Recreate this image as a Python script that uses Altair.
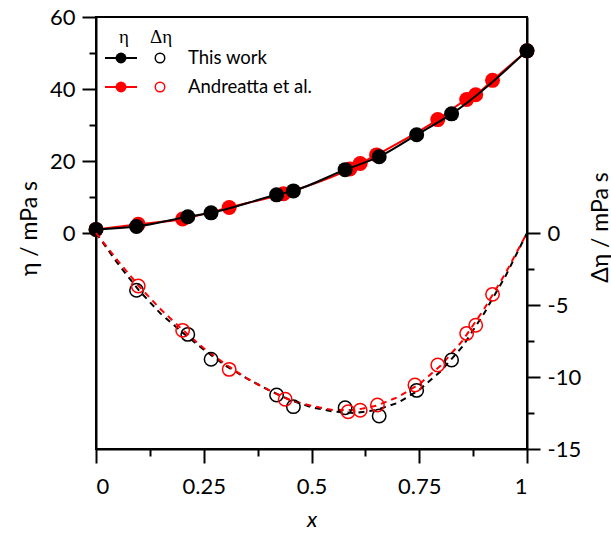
import altair as alt
import pandas as pd

# ---- data ----
x_this = [0.0, 0.094, 0.213, 0.267, 0.419, 0.458, 0.578, 0.657, 0.744, 0.825, 1.0]
eta_this = [1.0, 1.8, 4.5, 5.6, 10.6, 11.7, 17.6, 21.2, 27.3, 33.1, 50.6]
x_this_d = [0.094, 0.213, 0.267, 0.419, 0.458, 0.578, 0.657, 0.744, 0.825]
deta_this = [-3.98, -7.04, -8.77, -11.25, -12.06, -12.13, -12.71, -10.93, -8.82]

x_and = [0.0, 0.098, 0.201, 0.309, 0.435, 0.589, 0.613, 0.651, 0.793, 0.860, 0.881, 0.920, 1.0]
eta_and = [1.0, 2.4, 3.9, 7.1, 10.9, 17.8, 19.3, 21.7, 31.5, 37.1, 38.4, 42.4, 50.6]
x_and_d = [0.098, 0.201, 0.309, 0.439, 0.585, 0.613, 0.653, 0.740, 0.793, 0.860, 0.881, 0.920]
deta_and = [-3.68, -6.76, -9.47, -11.55, -12.41, -12.31, -11.94, -10.56, -9.17, -6.97, -6.41, -4.26]

# fitted (dashed) curves
x_fit = [0.0, 0.05, 0.1, 0.15, 0.2, 0.25, 0.3, 0.35, 0.4, 0.45, 0.5, 0.55, 0.6,
         0.65, 0.7, 0.75, 0.8, 0.85, 0.9, 0.95, 1.0]
fit_this = [0.0, -2.1, -4.0, -5.6, -6.9, -8.1, -9.2, -10.1, -10.9, -11.6, -12.1,
            -12.4, -12.5, -12.3, -11.8, -10.9, -9.6, -7.9, -5.6, -3.0, 0.0]
fit_and = [0.0, -1.9, -3.7, -5.3, -6.7, -8.0, -9.1, -10.1, -10.9, -11.6, -12.0,
           -12.3, -12.3, -12.0, -11.4, -10.5, -9.2, -7.5, -5.3, -2.8, 0.0]

legend_labels = ["This work", "Andreatta et al."]
legend_colors = ["black", "red"]

FONT = "Lato"
RED = "#ff0000"

df_this = pd.DataFrame({"x": x_this, "eta": eta_this})
df_this_d = pd.DataFrame({"x": x_this_d, "deta": deta_this})
df_and = pd.DataFrame({"x": x_and, "eta": eta_and})
df_and_d = pd.DataFrame({"x": x_and_d, "deta": deta_and})
df_fit = pd.DataFrame({"x": x_fit, "fit_this": fit_this, "fit_and": fit_and})
one = pd.DataFrame({"a": [0]})

PW, PH = 431, 432
L, T = 96, 17

x_axis = alt.Axis(
    values=[i / 8 for i in range(9)],
    labelExpr="(round(datum.value*8) % 2 == 0) ? '' + datum.value : ''",
    tickSize={"condition": {"test": "round(datum.value*8) % 2 == 0", "value": 14}, "value": 7},
    title="x", titleFontStyle="italic", titleFont=FONT, titleFontSize=22,
    titleFontWeight="normal", titleY=70, titleBaseline="middle",
    labelFont=FONT, labelFontSize=22, labelPadding=13, grid=False,
)
x_enc = alt.X("x:Q", scale=alt.Scale(domain=[0, 1], nice=False, zero=False), axis=x_axis)

eta_axis = alt.Axis(
    values=[0, 10, 20, 30, 40, 50, 60],
    labelExpr="datum.value % 20 == 0 ? '' + datum.value : ''",
    tickSize={"condition": {"test": "datum.value % 20 == 0", "value": 14}, "value": 7},
    title="η / mPa s", titleFont=FONT, titleFontSize=23, titleFontWeight="normal",
    titleX=29 - L, titleY=228 - T, titleAngle=270, titleAlign="center",
    titleBaseline="middle",
    labelFont=FONT, labelFontSize=22, labelPadding=7, grid=False, orient="left",
)
eta_scale = alt.Scale(domain=[-60, 60], nice=False, zero=False)

deta_axis = alt.Axis(
    values=[0, -2.5, -5, -7.5, -10, -12.5, -15],
    labelExpr="datum.value % 5 == 0 ? '' + datum.value : ''",
    tickSize={"condition": {"test": "datum.value % 5 == 0", "value": 13}, "value": 7},
    title="Δη / mPa s", titleFont=FONT, titleFontSize=23, titleFontWeight="normal",
    titleX=600 - (L + PW), titleY=227 - T, titleAngle=270, titleAlign="center",
    titleBaseline="middle",
    labelFont=FONT, labelFontSize=22, labelPadding=7, grid=False, orient="right",
)
deta_scale = alt.Scale(domain=[-15, 15], nice=False, zero=False)


def eta_y(field):
    return alt.Y(f"{field}:Q", scale=eta_scale, axis=eta_axis)


def deta_y(field):
    return alt.Y(f"{field}:Q", scale=deta_scale, axis=deta_axis)


# delta-eta layers
blk_fit = alt.Chart(df_fit).mark_line(color="black", strokeWidth=2, strokeDash=[6, 5]).encode(x=x_enc, y=deta_y("fit_this"))
red_fit = alt.Chart(df_fit).mark_line(color=RED, strokeWidth=2, strokeDash=[6, 5]).encode(x=x_enc, y=deta_y("fit_and"))
blk_open = alt.Chart(df_this_d).mark_point(filled=False, color="black", size=180, strokeWidth=1.5, opacity=1, shape="circle").encode(x=x_enc, y=deta_y("deta"))
red_open = alt.Chart(df_and_d).mark_point(filled=False, color=RED, size=180, strokeWidth=1.5, opacity=1, shape="circle").encode(x=x_enc, y=deta_y("deta"))
deta_layer = alt.layer(blk_fit, red_fit, blk_open, red_open)

# eta layers
red_line = alt.Chart(df_and).mark_line(color=RED, strokeWidth=2, interpolate="monotone").encode(x=x_enc, y=eta_y("eta"))
red_pts = alt.Chart(df_and).mark_point(filled=True, color=RED, size=225, opacity=1, shape="circle").encode(x=x_enc, y=eta_y("eta"))
blk_line = alt.Chart(df_this).mark_line(color="black", strokeWidth=2, interpolate="monotone").encode(x=x_enc, y=eta_y("eta"))
blk_pts = alt.Chart(df_this).mark_point(filled=True, color="black", size=225, opacity=1, shape="circle").encode(x=x_enc, y=eta_y("eta"))
eta_layer = alt.layer(red_line, red_pts, blk_line, blk_pts)

# legend (hand-built, as in the reference)
leg = []
leg.append(alt.Chart(one).mark_text(text="η", font="Liberation Serif", fontSize=19, align="center", baseline="middle").encode(x=alt.value(124 - L), y=alt.value(37 - T)))
leg.append(alt.Chart(one).mark_text(text="Δη", font="Liberation Serif", fontSize=19, align="center", baseline="middle").encode(x=alt.value(161 - L), y=alt.value(37 - T)))
for i, (lab, col) in enumerate(zip(legend_labels, legend_colors)):
    yy = 58 + 29 * i - T
    c = RED if col == "red" else "black"
    leg.append(alt.Chart(one).mark_rule(color=c, strokeWidth=2).encode(x=alt.value(105 - L), x2=alt.value(137 - L), y=alt.value(yy)))
    leg.append(alt.Chart(one).mark_point(filled=True, color=c, size=120, opacity=1, shape="circle").encode(x=alt.value(121 - L), y=alt.value(yy)))
    leg.append(alt.Chart(one).mark_point(filled=False, color=c, size=90, strokeWidth=1.5, opacity=1, shape="circle").encode(x=alt.value(160 - L), y=alt.value(yy)))
    leg.append(alt.Chart(one).mark_text(text=lab, font=FONT, fontSize=18.5, align="left", baseline="middle", color="black").encode(x=alt.value(188 - L), y=alt.value(yy)))

chart = alt.layer(eta_layer, deta_layer, *leg).resolve_scale(y="independent").properties(
    width=PW, height=PH,
    autosize=alt.AutoSizeParams(type="none"),
    padding={"left": L, "top": T, "right": 611 - L - PW, "bottom": 535 - T - PH},
).configure_view(stroke="black", strokeWidth=2).configure_axis(
    domainColor="black", domainWidth=2, tickColor="black", tickWidth=2,
    labelColor="black", titleColor="black",
)

chart.save("out.html", embed_options={"renderer": "svg", "actions": False})
